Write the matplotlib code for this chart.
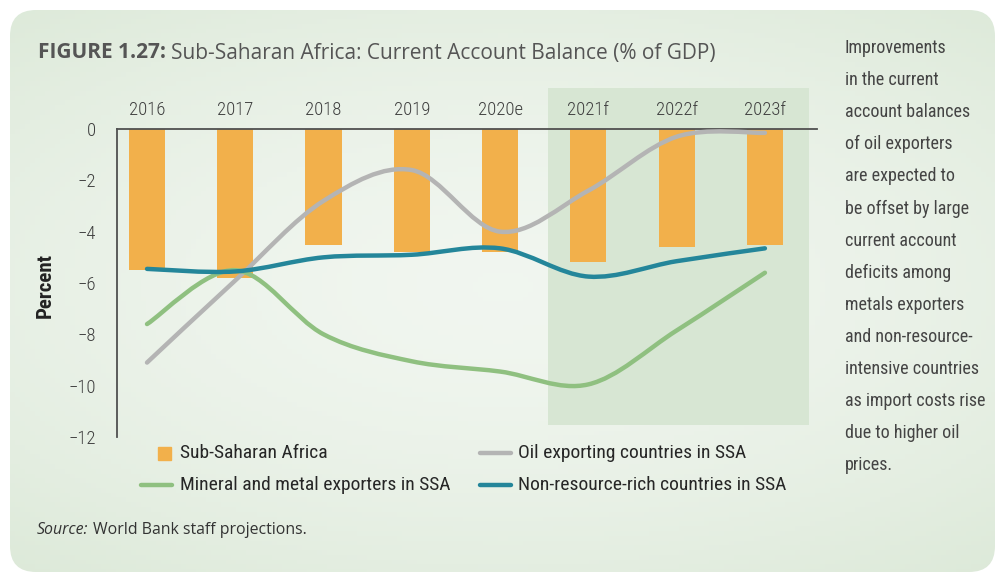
"""Sub-Saharan Africa: current account balance, bars + smoothed lines"""

# %% Import
import matplotlib.pyplot as plt
import numpy as np
from matplotlib import font_manager as fm
from matplotlib.patches import FancyBboxPatch, Rectangle, PathPatch
from matplotlib.path import Path
from matplotlib.lines import Line2D

# %% Données
annees = ['2016', '2017', '2018', '2019', '2020e', '2021f', '2022f', '2023f']
ssa = [-5.5, -5.8, -4.5, -4.8, -4.8, -5.2, -4.6, -4.5]
petrole = [-9.1, -5.9, -2.8, -1.6, -4.0, -2.4, -0.3, -0.15]
minerais = [-7.6, -5.5, -8.0, -9.05, -9.45, -9.95, -7.85, -5.6]
non_ressources = [-5.45, -5.55, -5.0, -4.9, -4.65, -5.75, -5.15, -4.65]

noms = ['Sub-Saharan Africa', 'Oil exporting countries in SSA',
        'Mineral and metal exporters in SSA', 'Non-resource-rich countries in SSA']
texte_droite = ['Improvements', 'in the current', 'account balances',
                'of oil exporters', 'are expected to', 'be offset by large',
                'current account', 'deficits among', 'metals exporters',
                'and non-resource-', 'intensive countries', 'as import costs rise',
                'due to higher oil', 'prices.']

# couleurs
ORANGE = '#f2b04b'
GRIS = '#b4b4b4'
VERT = '#8fc080'
BLEU = '#24869a'
TEXTE = '#3f3f3f'

# %% Polices
noms_dispo = {f.name for f in fm.fontManager.ttflist}
ETROIT = 'Roboto Condensed' if 'Roboto Condensed' in noms_dispo else 'DejaVu Sans'
LARGE = ['Open Sans', 'DejaVu Sans']


def courbe_lisse(ax, x, y, couleur):
    """Trace une courbe lissée (Bezier façon Excel) passant par les points"""
    pts = np.column_stack([x, y]).astype(float)
    n = len(pts)
    verts = [pts[0]]
    codes = [Path.MOVETO]
    for i in range(n - 1):
        p0 = pts[max(i - 1, 0)]
        p1 = pts[i]
        p2 = pts[i + 1]
        p3 = pts[min(i + 2, n - 1)]
        c1 = p1 + (p2 - p0) / 6
        c2 = p2 - (p3 - p1) / 6
        verts += [c1, c2, p2]
        codes += [Path.CURVE4] * 3
    patch = PathPatch(Path(verts, codes), facecolor='none', edgecolor=couleur,
                      lw=3.2, capstyle='round', zorder=3)
    ax.add_patch(patch)


# %% Figure
fig = plt.figure(figsize=(10.05, 5.74), dpi=100)
W, H = 1005, 574

# panneau arrondi avec dégradé
axf = fig.add_axes([0, 0, 1, 1], zorder=-10)
axf.set_xlim(0, 1)
axf.set_ylim(0, 1)
axf.axis('off')
fond = FancyBboxPatch((10 / W, 2 / H), 985 / W, 562 / H,
                      boxstyle='round,pad=0,rounding_size=%f' % (26 / W),
                      mutation_aspect=W / H, facecolor='none', edgecolor='none',
                      transform=axf.transAxes)
axf.add_patch(fond)
gx, gy = np.meshgrid(np.linspace(-1, 1, 200), np.linspace(-1, 1, 120))
r = np.clip(np.sqrt(gx ** 2 * 0.7 + gy ** 2), 0, 1.3) / 1.3
c_centre = np.array([0.945, 0.965, 0.940])
c_bord = np.array([0.865, 0.915, 0.850])
img = c_centre + (c_bord - c_centre) * (r[..., None] ** 1.6)
im = axf.imshow(img, extent=[0, 1, 0, 1], aspect='auto', origin='lower')
im.set_clip_path(fond)

ax = fig.add_axes([117 / W, 1 - 437 / H, 700 / W, 308 / H])
ax.patch.set_visible(False)

x = np.arange(len(annees))

# zone de prévision
ax.add_patch(Rectangle((4.54, -11.53), 2.96, 13.13, facecolor='#d7e6d3',
                       edgecolor='none', clip_on=False, zorder=0))

ax.bar(x, ssa, width=0.41, color=ORANGE, zorder=2)
courbe_lisse(ax, x, petrole, GRIS)
courbe_lisse(ax, x, minerais, VERT)
courbe_lisse(ax, x, non_ressources, BLEU)

ax.set_xlim(-0.34, 7.59)
ax.set_ylim(-12, 0)
ax.set_yticks(np.arange(-12, 1, 2))
ax.set_yticklabels(['\u2212%d' % -v if v else '0' for v in np.arange(-12, 1, 2)])
ax.set_xticks(x)
ax.set_xticklabels(annees)
ax.xaxis.tick_top()
ax.tick_params(axis='x', length=0, pad=7, labelsize=13.5, labelcolor=TEXTE)
ax.tick_params(axis='y', length=0, pad=15, labelsize=13.5, labelcolor=TEXTE)
for t in ax.get_xticklabels() + ax.get_yticklabels():
    t.set_family([ETROIT, 'DejaVu Sans'])
    t.set_weight('light')
for s in ['right', 'bottom']:
    ax.spines[s].set_visible(False)
for s in ['top', 'left']:
    ax.spines[s].set_color('#505050')
    ax.spines[s].set_linewidth(1.3)

fig.text(45 / W, 1 - 285 / H, 'Percent', rotation=90, ha='center', va='center',
         fontsize=15, fontweight='bold', color='#222222', family=ETROIT)

# légende (placée à la main)
rang1, rang2 = 1 - 453 / H, 1 - 485 / H
fig.add_artist(Rectangle((158 / W, rang1 - 7 / H), 13 / W, 13 / H,
                         transform=fig.transFigure, color=ORANGE))
for (x0, y0, c) in [(141, rang2, VERT), (480, rang1, GRIS), (480, rang2, BLEU)]:
    fig.add_artist(Line2D([x0 / W, (x0 + 31) / W], [y0, y0], color=c, lw=3.2,
                          solid_capstyle='round', transform=fig.transFigure))
for (x0, y0, nom) in [(180, rang1, noms[0]), (518, rang1, noms[1]),
                      (180, rang2, noms[2]), (518, rang2, noms[3])]:
    fig.text(x0 / W, y0, nom, fontsize=14, color='#262626', va='center',
             family=ETROIT)

# titre
t1 = fig.text(38 / W, 1 - 53 / H, 'FIGURE 1.27:', fontsize=15, fontweight='bold',
              color='#555555', va='center', family=LARGE)
fig.canvas.draw()
bb = t1.get_window_extent()
fig.text(bb.x1 / W + 5 / W, 1 - 53 / H,
         'Sub-Saharan Africa: Current Account Balance (% of GDP)',
         fontsize=15, color='#555555', va='center', family=LARGE)

# texte de droite
for i, ligne in enumerate(texte_droite):
    fig.text(845 / W, 1 - (48 + 32.1 * i) / H, ligne, fontsize=13, color='#444444',
             va='center', family=ETROIT)

# source
s1 = fig.text(37 / W, 1 - 530 / H, 'Source:', fontsize=11.4, style='italic',
              color='#333333', va='center', family=LARGE)
fig.canvas.draw()
bb = s1.get_window_extent()
fig.text(bb.x1 / W + 4 / W, 1 - 530 / H, 'World Bank staff projections.',
         fontsize=11.4, color='#333333', va='center', family=LARGE)

fig.savefig('out.png', dpi=100, facecolor='white')
